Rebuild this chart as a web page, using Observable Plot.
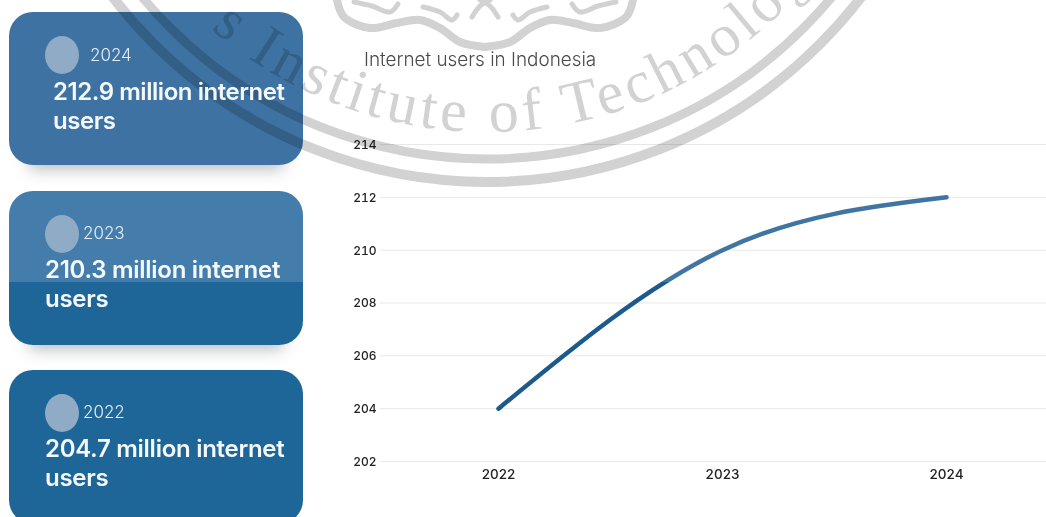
<!DOCTYPE html>
<html>
<head>
<meta charset="utf-8">
<script src="https://cdn.jsdelivr.net/npm/d3@7"></script>
<script src="https://cdn.jsdelivr.net/npm/@observablehq/plot@0.6"></script>
<style>
  html, body { margin: 0; padding: 0; background: #fff; }
  #page { position: relative; width: 1046px; height: 517px; overflow: hidden; font-family: Inter, sans-serif; }
  #page > * { position: absolute; }
  .card { left: 9px; width: 294px; border-radius: 24px; box-shadow: 0 24px 16px -20px rgba(40,50,60,.34); }
  .dot { width: 34px; height: 38px; border-radius: 50%; background: #8fabc6; }
  .year { font-size: 17px; font-weight: 300; color: #e6eef5; line-height: 20px; }
  .headline { font-size: 24px; font-weight: 600; line-height: 29px; color: #f4f8fb; width: 260px; }
  #title { left: 364px; top: 49px; font-size: 18.9px; font-weight: 300; color: #4a4a4a; line-height: 22px; }
  #seal { left: 0; top: 0; mix-blend-mode: multiply; }
</style>
</head>
<body>
<div id="page"></div>
<script>
// Chart series
const years = ["2022", "2023", "2024"];
const users = [204, 210, 212];
const yTicks = [202, 204, 206, 208, 210, 212, 214];

// Summary cards, newest first
const cardYears = ["2024", "2023", "2022"];
const cardLabels = ["212.9 million internet users", "210.3 million internet users", "204.7 million internet users"];
const cardTops = [12, 191, 370];
const cardHeights = [153, 154, 154];
const cardFills = [
  "#3d72a3",
  "linear-gradient(#447dab 0 91px, #1f6698 91px)",
  "#1f6698"
];
const cardTextLeft = [53, 45, 45];
const cardYearLeft = [90, 83, 83];
const cardYearDrop = [33, 32, 32];
const cardTextDrop = [65, 64, 64];
const cardTracking = [-0.45, -0.28, -0.28];

const page = d3.select("#page");

cardYears.forEach((year, i) => {
  page.append("div").attr("class", "card")
    .style("top", cardTops[i] + "px").style("height", cardHeights[i] + "px")
    .style("background", cardFills[i]);
});

// The line chart
const chart = Plot.plot({
  width: 1046,
  height: 517,
  marginLeft: 380,
  marginRight: 0,
  marginTop: 144,
  marginBottom: 56,
  style: { background: "transparent", fontFamily: "Inter, sans-serif" },
  x: { type: "point", domain: years, range: [497, 946], padding: 0, label: null },
  y: { domain: [202, 214], label: null },
  marks: [
    Plot.gridY(yTicks, { stroke: "#e8e8e8", strokeOpacity: 1, strokeWidth: 1 }),
    Plot.axisY(yTicks, { tickSize: 0, tickPadding: 4, fontSize: 12, fontWeight: 500, fill: "#222", dy: 0.5, tickFormat: d => String(d) }),
    Plot.axisX(years, { tickSize: 0, tickPadding: 8, fontSize: 13.5, fontWeight: 500, fill: "#222" }),
    Plot.line(years.map((year, i) => ({ year, value: users[i] })), {
      x: "year", y: "value", curve: "natural",
      stroke: "url(#lineShade)", strokeWidth: 4.5, strokeLinecap: "round"
    })
  ]
});

// The upper part of the page is washed lighter, so the line changes shade on the way up
const shade = d3.select(chart).append("defs").append("linearGradient")
  .attr("id", "lineShade").attr("gradientUnits", "userSpaceOnUse")
  .attr("x1", 0).attr("x2", 0).attr("y1", 0).attr("y2", 517);
[[0, "#3f74a3"], [282 / 517, "#3f74a3"], [282 / 517, "#1b5a8b"], [1, "#1b5a8b"]].forEach(([o, c]) =>
  shade.append("stop").attr("offset", o).attr("stop-color", c));
page.node().appendChild(chart);

// Seal drawn across the page
const seal = page.append("svg").attr("id", "seal").attr("width", 1046).attr("height", 517);
const sealX = 487, sealY = -289, grey = "#d2d2d2";
[[471, 10], [448, 9]].forEach(([r, w]) =>
  seal.append("circle").attr("cx", sealX).attr("cy", sealY).attr("r", r)
    .attr("fill", "none").attr("stroke", grey).attr("stroke-width", w));

const arcR = 421;
seal.append("path").attr("id", "sealArc").attr("fill", "none")
  .attr("d", `M${sealX - arcR},${sealY} A${arcR},${arcR} 0 0 0 ${sealX + arcR},${sealY}`);
seal.append("text").attr("font-family", "'Liberation Serif', serif").attr("font-size", 60)
  .attr("fill", grey).attr("letter-spacing", 4.5)
  .append("textPath").attr("href", "#sealArc").attr("startOffset", "27.2%")
  .text("s Institute of Technology");

// Ornament at the top of the seal, left half mirrored to the right
const ornamentLines = [
  [[337, 0], [344, 17], [370, 28], [397, 23], [420, 20], [440, 28], [460, 42], [485, 47]],
  [[354, 2], [372, 6], [390, 12], [398, 4]],
  [[423, 7], [440, 12], [452, 20], [457, 15]],
  [[472, 17], [480, 6], [490, 0]]
];
const trace = d3.line().curve(d3.curveCatmullRom);
ornamentLines.forEach((points, i) => {
  const weight = i === 0 ? 8 : 5;
  seal.append("path").attr("d", trace(points)).attr("fill", "none").attr("stroke", grey)
    .attr("stroke-width", weight).attr("stroke-linecap", "round");
  seal.append("path").attr("d", trace(points.map(([x, y]) => [970 - x, y]))).attr("fill", "none").attr("stroke", grey)
    .attr("stroke-width", weight).attr("stroke-linecap", "round");
});

// Text and dots sit above the seal
cardYears.forEach((year, i) => {
  const top = cardTops[i];
  page.append("div").attr("class", "dot").style("left", "45px").style("top", (top + 24) + "px");
  page.append("div").attr("class", "year").style("left", cardYearLeft[i] + "px").style("top", (top + cardYearDrop[i]) + "px").text(year);
  page.append("div").attr("class", "headline").style("left", cardTextLeft[i] + "px").style("top", (top + cardTextDrop[i]) + "px")
    .style("letter-spacing", cardTracking[i] + "px").text(cardLabels[i]);
});
page.append("div").attr("id", "title").text("Internet users in Indonesia");
</script>
</body>
</html>
